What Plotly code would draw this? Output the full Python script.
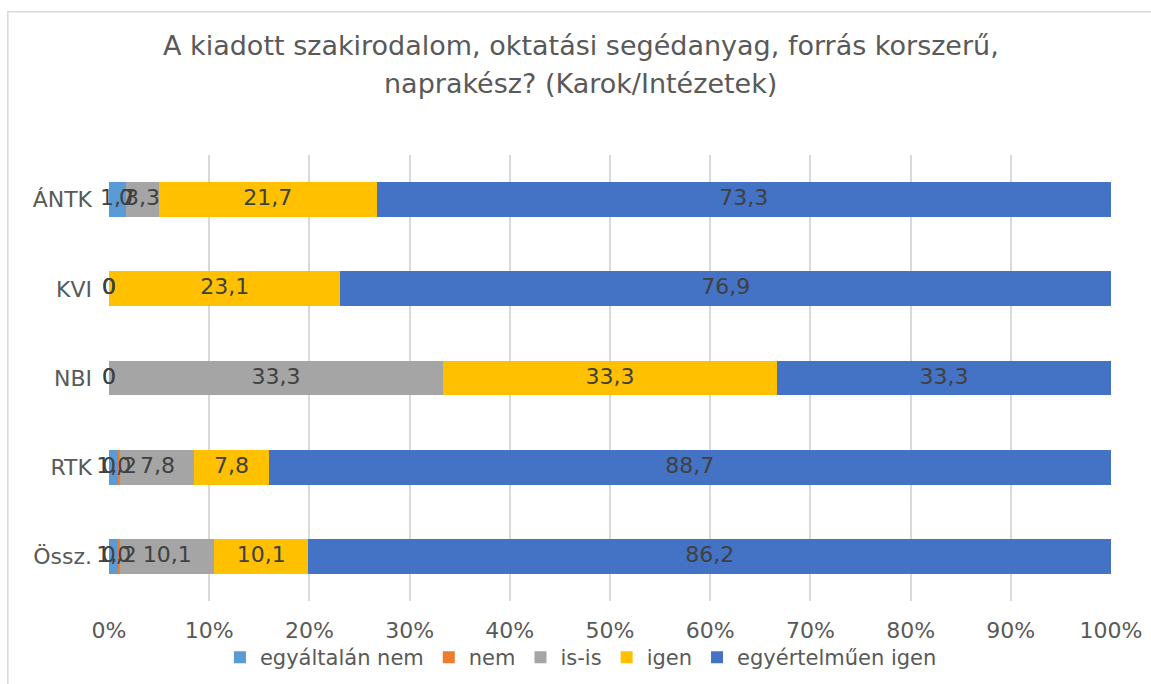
import numpy as np
import plotly.graph_objects as go

categories = ["ÁNTK", "KVI", "NBI", "RTK", "Össz."]
series_names = ["egyáltalán nem", "nem", "is-is", "igen", "egyértelműen igen"]
egyaltalan_nem = [1.7, 0, 0, 1.0, 1.0]
nem = [0, 0, 0, 0.2, 0.2]
is_is = [3.3, 0, 33.3, 7.8, 10.1]
igen = [21.7, 23.1, 33.3, 7.8, 10.1]
egyertelmuen_igen = [73.3, 76.9, 33.3, 88.7, 86.2]
x_tick_values = [0, 10, 20, 30, 40, 50, 60, 70, 80, 90, 100]
x_tick_labels = ["0%", "10%", "20%", "30%", "40%", "50%", "60%", "70%", "80%", "90%", "100%"]
title_lines = ["A kiadott szakirodalom, oktatási segédanyag, forrás korszerű,",
               "naprakész? (Karok/Intézetek)"]

series = [egyaltalan_nem, nem, is_is, igen, egyertelmuen_igen]
colors = ["#5B9BD5", "#ED7D31", "#A5A5A5", "#FFC000", "#4472C4"]
FONT = "DejaVu Sans, Verdana, sans-serif"

fig = go.Figure()
for name, vals, col in zip(series_names, series, colors):
    fig.add_trace(go.Bar(
        y=categories, x=vals, name=name, orientation="h",
        marker=dict(color=col, line=dict(width=0)),
        hoverinfo="x+y+name",
    ))

# data labels at segment centres (percent-normalised)
data = np.array(series, dtype=float)
totals = data.sum(axis=0)
pct = data / totals * 100
cum = np.cumsum(pct, axis=0)
mids = cum - pct / 2

def fmt(v):
    return "0" if v == 0 else f"{v:.1f}".replace(".", ",")

lx, ly, lt = [], [], []
for si in range(len(series)):
    for ci, cat in enumerate(categories):
        lx.append(mids[si, ci])
        ly.append(cat)
        lt.append(fmt(data[si, ci]))

fig.add_trace(go.Scatter(
    x=lx, y=ly, text=lt, mode="text", textposition="middle center",
    textfont=dict(family=FONT, size=22, color="#404040"),
    showlegend=False, hoverinfo="skip", cliponaxis=False,
))

annotations = [
    dict(text=title_lines[0], xref="paper", yref="paper", x=0.471, y=1.2466,
         xanchor="center", yanchor="middle", showarrow=False,
         font=dict(family=FONT, size=27, color="#595959")),
    dict(text=title_lines[1], xref="paper", yref="paper", x=0.471, y=1.1592,
         xanchor="center", yanchor="middle", showarrow=False,
         font=dict(family=FONT, size=27, color="#595959")),
]

fig.update_layout(
    barmode="stack", barnorm="percent", bargap=0.61,
    width=1151, height=684,
    margin=dict(l=109, r=40, t=155, b=83, autoexpand=False),
    paper_bgcolor="white", plot_bgcolor="white",
    font=dict(family=FONT, color="#595959", size=22),
    annotations=annotations,
    legend=dict(
        orientation="h", x=0.471, xanchor="center", y=-0.081, yanchor="top",
        font=dict(family=FONT, size=21, color="#595959"),
        bgcolor="rgba(0,0,0,0)",
        traceorder="normal", itemwidth=30,
    ),
    xaxis=dict(
        range=[0, 100], tickvals=x_tick_values, ticktext=x_tick_labels,
        showgrid=True, gridcolor="#D9D9D9", gridwidth=1.5,
        zeroline=False, showline=False, ticks="", ticklabelstandoff=14,
        tickfont=dict(family=FONT, size=22, color="#595959"), fixedrange=True,
        automargin=False,
    ),
    yaxis=dict(
        autorange="reversed", showgrid=False, showline=False, ticks="",
        ticklabelstandoff=16, automargin=False,
        tickfont=dict(family=FONT, size=22, color="#595959"),
    ),
    shapes=[dict(type="rect", xref="paper", yref="paper",
                 x0=-0.101, x1=1.2, y0=-0.5, y1=1.321,
                 line=dict(color="#D9D9D9", width=1.5), fillcolor="rgba(0,0,0,0)",
                 layer="below")],
)

fig.write_html("out.html", config={"displayModeBar": False},
               post_script="document.body.style.margin='0px';")
